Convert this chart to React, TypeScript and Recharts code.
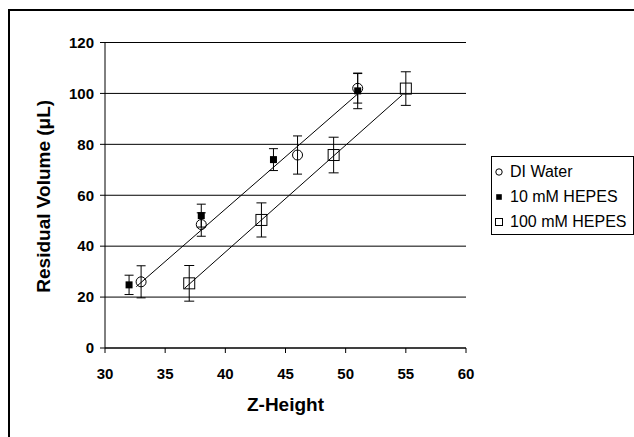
import React from 'react';
import { ScatterChart, Scatter, XAxis, YAxis, CartesianGrid, ErrorBar, Legend } from 'recharts';

const seriesNames = ['DI Water', '10 mM HEPES', '100 mM HEPES'];

const diX = [33, 38, 46, 51];
const diY = [26, 48.5, 75.8, 102];
const diErr = [6.3, 4.6, 7.5, 5.8];

const h10X = [32, 38, 44, 51];
const h10Y = [24.8, 52, 74, 101];
const h10Err = [3.8, 4.5, 4.3, 7];

const h100X = [37, 43, 49, 55];
const h100Y = [25.4, 50.3, 75.8, 101.9];
const h100Err = [7, 6.7, 7, 6.6];

const fit1X = [32.6, 51];
const fit1Y = [24.1, 99.8];
const fit2X = [36.6, 54.7];
const fit2Y = [23.4, 99.4];

const xTicks = [30, 35, 40, 45, 50, 55, 60];
const yTicks = [0, 20, 40, 60, 80, 100, 120];

const FONT = '"Liberation Sans", Arial, sans-serif';

const build = (xs: number[], ys: number[], es?: number[]) =>
  xs.map((x, i) => ({ x, y: ys[i], err: es ? es[i] : 0 }));

const diData = build(diX, diY, diErr);
const h10Data = build(h10X, h10Y, h10Err);
const h100Data = build(h100X, h100Y, h100Err);
const fit1Data = build(fit1X, fit1Y);
const fit2Data = build(fit2X, fit2Y);

const CircleShape = (p: any) => (
  <circle cx={p.cx} cy={p.cy} r={5} fill="none" stroke="#000" strokeWidth={1} />
);
const FilledSquare = (p: any) => (
  <rect x={p.cx - 3.5} y={p.cy - 3.5} width={7} height={7} fill="#000" />
);
const OpenSquare = (p: any) => (
  <rect x={p.cx - 5.5} y={p.cy - 5.5} width={11} height={11} fill="none" stroke="#000" strokeWidth={1} />
);
const NoShape = () => <g />;

const legendIcons = [
  <circle key="c" cx={5} cy={5} r={3.2} fill="none" stroke="#000" strokeWidth={1} />,
  <rect key="f" x={2.2} y={2.2} width={5.6} height={5.6} fill="#000" />,
  <rect key="o" x={1.5} y={1.5} width={7} height={7} fill="none" stroke="#000" strokeWidth={1} />,
];

const renderLegend = () => (
  <div
    style={{
      boxSizing: 'border-box',
      width: 143,
      height: 79,
      border: '1px solid #000',
      background: '#fff',
      paddingTop: 2.5,
      fontFamily: FONT,
      fontSize: 16,
      color: '#000',
    }}
  >
    {seriesNames.map((n, i) => (
      <div key={n} style={{ height: 25, display: 'flex', alignItems: 'center' }}>
        <svg width={10} height={10} style={{ marginLeft: 2, display: 'block' }}>
          {legendIcons[i]}
        </svg>
        <span style={{ marginLeft: 6, whiteSpace: 'nowrap' }}>{n}</span>
      </div>
    ))}
  </div>
);

const YTitle = (props: any) => {
  const vb = props.viewBox || {};
  const cy = vb.y + vb.height / 2 + 1;
  return (
    <text
      transform={`translate(50, ${cy}) rotate(-90)`}
      textAnchor="middle"
      fontFamily={FONT}
      fontWeight="bold"
      fontSize={19}
      fill="#000"
    >
      Residual Volume (μL)
    </text>
  );
};

const XTitle = (props: any) => {
  const vb = props.viewBox || {};
  return (
    <text
      x={vb.x + vb.width / 2}
      y={vb.y + 63}
      textAnchor="middle"
      fontFamily={FONT}
      fontWeight="bold"
      fontSize={19}
      fill="#000"
    >
      Z-Height
    </text>
  );
};

const tickStyle = { fill: '#000', fontSize: 15, fontWeight: 'bold', fontFamily: FONT };

export default function App() {
  return (
    <div
      style={{
        position: 'absolute',
        left: 0,
        top: 0,
        width: 634,
        height: 437,
        overflow: 'hidden',
        background: '#fff',
      }}
    >
      <div
        style={{
          position: 'absolute',
          left: 8,
          top: 9,
          width: 700,
          height: 500,
          border: '2px solid #000',
        }}
      />
      <div style={{ position: 'absolute', left: 0, top: 0 }}>
        <ScatterChart
          width={634}
          height={437}
          margin={{ top: 42.5, right: 168, bottom: 29, left: 0 }}
        >
          <CartesianGrid horizontal vertical={false} stroke="#000" strokeWidth={1} />
          <XAxis
            type="number"
            dataKey="x"
            domain={[30, 60]}
            ticks={xTicks}
            interval={0}
            height={60}
            axisLine={{ stroke: '#000' }}
            tickLine={{ stroke: '#000' }}
            tickSize={5}
            tickMargin={15}
            tick={tickStyle}
            label={{ content: XTitle }}
            allowDataOverflow
          />
          <YAxis
            type="number"
            dataKey="y"
            domain={[0, 120]}
            ticks={yTicks}
            interval={0}
            width={105}
            axisLine={{ stroke: '#000' }}
            tickLine={{ stroke: '#000' }}
            tickSize={5}
            tickMargin={6}
            tick={tickStyle}
            label={{ content: YTitle }}
            allowDataOverflow
          />
          <Legend
            layout="vertical"
            align="center"
            verticalAlign="middle"
            wrapperStyle={{ left: 491, top: 156, width: 143, height: 79 }}
            content={renderLegend}
          />
          <Scatter
            name="fit1"
            data={fit1Data}
            line={{ stroke: '#000', strokeWidth: 1 }}
            shape={NoShape}
            legendType="none"
            isAnimationActive={false}
          />
          <Scatter
            name="fit2"
            data={fit2Data}
            line={{ stroke: '#000', strokeWidth: 1 }}
            shape={NoShape}
            legendType="none"
            isAnimationActive={false}
          />
          <Scatter name={seriesNames[0]} data={diData} shape={CircleShape} isAnimationActive={false}>
            <ErrorBar dataKey="err" direction="y" width={4.5} stroke="#000" strokeWidth={1} isAnimationActive={false} />
          </Scatter>
          <Scatter name={seriesNames[1]} data={h10Data} shape={FilledSquare} isAnimationActive={false}>
            <ErrorBar dataKey="err" direction="y" width={4.5} stroke="#000" strokeWidth={1} isAnimationActive={false} />
          </Scatter>
          <Scatter name={seriesNames[2]} data={h100Data} shape={OpenSquare} isAnimationActive={false}>
            <ErrorBar dataKey="err" direction="y" width={5} stroke="#000" strokeWidth={1} isAnimationActive={false} />
          </Scatter>
        </ScatterChart>
      </div>
    </div>
  );
}
